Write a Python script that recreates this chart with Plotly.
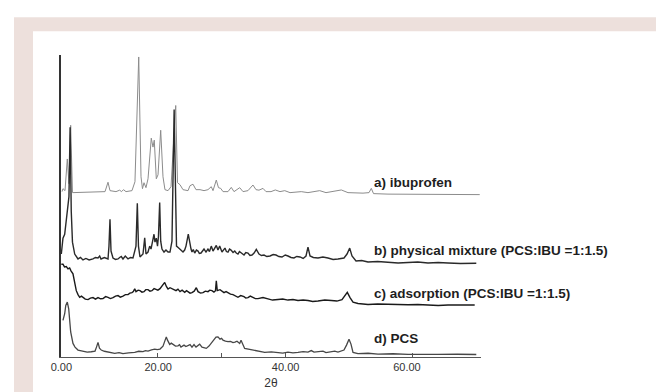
import plotly.graph_objects as go

# ---- data (2θ, stacked intensity in a.u.) ----
ibu_2theta = [4.95, 5.10, 5.42, 5.78, 6.04, 6.31, 6.59, 11.70, 12.17, 12.48, 13.42, 14.00, 14.29, 14.60, 14.99,
              15.93, 16.40, 16.99, 17.35, 17.58, 17.82, 18.13, 18.45, 18.96, 19.23, 19.43, 19.75, 20.02, 20.44,
              20.80, 21.11, 21.59, 22.06, 22.45, 22.80, 23.08, 23.47, 23.94, 24.73, 25.04, 25.51, 25.98, 26.61,
              27.24, 27.86, 28.38, 28.65, 29.17, 29.51, 29.86, 30.22, 31.00, 31.52, 31.95, 32.84, 33.36, 34.14,
              34.92, 35.40, 35.87, 36.50, 36.97, 37.76, 38.43, 39.17, 39.91, 40.74, 42.51, 43.56, 45.40, 46.39,
              48.79, 49.84, 52.20, 53.14, 53.50, 53.85, 56.12, 59.26, 62.40, 65.54, 70.52]
ibu_int = [167, 170, 168, 200, 175, 234, 166, 167, 176.5, 168, 167, 168.5, 167, 169, 167,
           168, 177, 303, 182, 170, 176, 171, 180, 221, 212, 219, 180, 184, 229,
           182, 169, 168, 172, 222, 254, 176, 174, 169, 168, 173, 174.5, 169, 169,
           168, 169, 172, 168, 178.7, 171, 170.3, 167, 167, 171.3, 167, 171, 167, 168,
           173.7, 169, 168.5, 170.3, 167, 167, 168.7, 167, 168, 166, 167, 166, 168, 166,
           168.7, 166, 165.5, 166, 170.3, 165, 164.5, 164.5, 164, 164, 164]

mix_2theta = [4.84, 5.10, 5.37, 5.62, 5.78, 6.04, 6.22, 6.40, 6.59, 6.94, 7.46, 7.85, 8.24, 8.7, 9.2, 9.81,
              10.2, 10.60, 10.86, 11.07, 11.6, 12.17, 12.32, 12.48, 12.64, 12.95, 13.35, 13.74, 14.0, 14.25,
              14.52, 14.88, 15.31, 15.7, 16.09, 16.56, 16.77, 16.95, 17.19, 17.45, 17.66, 17.93, 18.13,
              18.45, 18.71, 18.92, 19.15, 19.39, 19.54, 19.75, 19.94, 20.09, 20.28, 20.44, 20.64, 20.96,
              21.27, 21.59, 21.90, 22.21, 22.55, 22.75, 22.92, 23.18, 23.42, 23.7, 23.94, 24.2, 24.41,
              24.77, 25.04, 25.2, 25.35, 25.55, 25.78, 26.05, 26.30, 26.5, 26.77, 27.0, 27.24, 27.55,
              27.86, 28.1, 28.38, 28.65, 28.9, 29.17, 29.43, 29.70, 30.06, 30.3, 30.53, 30.75, 31.00,
              31.25, 31.48, 31.8, 32.06, 32.3, 32.57, 32.8, 33.05, 33.3, 33.52, 33.8, 34.14, 34.45, 34.77,
              35.1, 35.45, 35.87, 36.25, 36.66, 37.1, 37.60, 38.1, 38.54, 39.0, 39.48, 40.0, 40.42, 40.9,
              41.36, 41.8, 42.31, 42.8, 43.25, 43.56, 43.88, 44.4, 45.13, 45.9, 46.70, 47.5, 48.27, 49.21,
              49.69, 50.11, 50.47, 51.10, 52.0, 52.98, 54.5, 56.12, 57.7, 59.26, 60.8, 62.40, 64.0, 65.54,
              67.5, 69.98]
mix_int = [104, 120, 124, 138, 144, 162, 232, 147, 116, 104, 99, 100.5, 98, 99.5, 98, 99,
           100.5, 100, 102, 99, 100.5, 99, 112, 139, 107, 100, 98.5, 99, 100.5, 101.5,
           99, 102, 99, 100.5, 100, 112, 155.3, 112, 101, 103, 104, 120.3, 104,
           106, 112, 109, 118, 124, 116, 120, 112, 122, 156, 117, 109, 106,
           108, 106, 106, 117, 250, 150, 112, 110.5, 109, 107.5, 106, 108, 112,
           124, 112, 109, 106, 108.5, 105, 108, 107, 104.5, 105, 107.5, 109, 106,
           109, 106.5, 112, 107, 109.5, 112.7, 108, 112, 106, 108.5, 110, 106.5, 106,
           109, 108, 105.5, 107, 105, 104, 106.5, 105.3, 103.5, 103, 105.5, 105, 102.5, 103,
           105, 108.7, 104, 102.5, 103, 101.5, 102, 103.5, 103, 101.5, 101, 103, 102, 100.5,
           100, 101.5, 101, 99.5, 102, 111, 102, 100.5, 100, 101, 100, 98.5, 99, 100,
           104, 110, 102, 97, 97.5, 96, 96.5, 96, 95, 95.5, 96, 95, 95.5, 95,
           94.5, 94.7]

ads_2theta = [4.84, 5.10, 5.34, 5.62, 5.89, 6.15, 6.36, 6.67, 6.94, 7.19, 7.46, 7.72, 8.0, 8.24, 8.6, 9.03,
              9.4, 9.81, 10.2, 10.60, 11.0, 11.38, 11.8, 12.17, 12.55, 12.95, 13.35, 13.74, 14.1, 14.52,
              14.9, 15.31, 15.6, 15.93, 16.15, 16.36, 16.56, 16.9, 17.19, 17.5, 17.82, 18.1, 18.45, 18.75,
              19.07, 19.4, 19.70, 20.0, 20.33, 20.72, 21.07, 21.35, 21.59, 21.9, 22.21, 22.5, 22.84, 23.15,
              23.47, 23.8, 24.21, 24.5, 24.73, 25.05, 25.35, 25.7, 26.03, 26.30, 26.7, 27.08, 27.45, 27.86,
              28.15, 28.49, 28.8, 29.04, 29.17, 29.32, 29.75, 30.05, 30.38, 30.7, 31.00, 31.4, 31.79, 32.2,
              32.57, 33.0, 33.52, 33.8, 34.14, 34.5, 34.93, 35.3, 35.71, 36.5, 37.28, 38.0, 38.85, 39.6,
              40.42, 41.2, 41.99, 42.8, 43.56, 44.3, 45.13, 46.2, 47.22, 48.1, 48.90, 49.29, 49.73, 50.16,
              50.63, 51.41, 52.2, 52.98, 54.5, 56.12, 57.7, 59.26, 60.8, 62.40, 64.0, 65.54, 67.5, 69.73]
ads_int = [93.7, 93.7, 91, 91.3, 89, 90, 87, 84, 75, 67, 63, 60.3, 61.5, 60, 58.5, 58,
           59.5, 60, 58.5, 60, 58.8, 59, 61, 60.3, 59, 60, 61.5, 62, 60.5, 61.5,
           63, 63, 64.5, 65, 66, 69, 66, 67.5, 67, 65.5, 66, 68, 68, 66.5,
           67, 69, 68, 67.5, 69, 72, 75.3, 71, 68.7, 70, 69, 67.5, 67, 68.5,
           66, 67.5, 65.3, 67, 66, 64.5, 65, 66.5, 70, 66, 64.5, 65, 66.5, 66,
           67.5, 67, 65.5, 67, 77, 67, 68, 66.5, 65, 66, 64.7, 63.5, 63, 61.5,
           60.3, 62, 61, 59.5, 60, 61.5, 60.5, 59, 59, 60, 58.7, 57.5, 58, 58.5,
           57.5, 58, 57, 57.5, 57, 56, 56.5, 57.5, 57, 56.5, 58, 62,
           65.3, 60, 55.3, 54, 53.5, 53, 53.5, 53, 52.5, 52.7, 53, 52.5, 52, 52.5, 52.5, 52.5]

pcs_2theta = [5.10, 5.37, 5.54, 5.78, 6.00, 6.15, 6.31, 6.67, 6.99, 7.46, 8.24, 8.9, 9.54, 10.13, 10.36, 10.60,
              10.83, 11.11, 11.6, 12.17, 12.7, 13.22, 13.9, 14.52, 15.4, 16.36, 17.0, 17.66, 18.05, 18.45,
              19.0, 19.50, 19.9, 20.33, 20.80, 21.04, 21.32, 21.51, 21.85, 22.1, 22.37, 22.76, 23.15, 23.4,
              23.62, 24.10, 24.4, 24.73, 25.05, 25.35, 25.67, 25.98, 26.3, 26.56, 26.92, 27.25, 27.60, 28.02,
              28.38, 28.81, 29.12, 29.43, 29.75, 30.0, 30.22, 30.6, 31.00, 31.4, 31.79, 32.1, 32.42, 32.84,
              33.05, 33.62, 34.14, 34.93, 35.8, 36.77, 37.8, 38.85, 39.6, 40.42, 41.2, 41.99, 42.8, 43.56,
              44.08, 44.51, 45.2, 45.92, 46.39, 47.1, 47.76, 48.27, 49.21, 49.61, 50.00, 50.31, 50.63, 51.41,
              53.0, 54.55, 56.9, 59.26, 61.6, 63.97, 67.0, 69.98]
pcs_int = [37, 43.7, 52, 55.5, 48.7, 37, 25.3, 13.7, 10, 7, 6, 5, 5.3, 6, 10, 14.7,
           9, 7, 5.8, 5, 4.2, 3.7, 4.5, 3.5, 4.2, 4.7, 5.8, 5.5, 6.5, 6,
           7.2, 8, 7.5, 8, 11, 16, 20.3, 17, 12.7, 14, 13, 11, 11.3, 12.5,
           10, 12, 10.5, 11.3, 12.5, 10, 12.5, 10, 11.5, 13, 10, 9.5, 8.7, 11,
           13.7, 18, 20, 20.3, 18, 18.8, 17, 16, 15.5, 15.8, 14.5, 15, 16, 13.7,
           17, 8.7, 8, 6.5, 5.5, 4.7, 5.2, 4.5, 4, 5, 4.2, 4.7, 5.5, 5,
           6.5, 5, 5.5, 6, 4.5, 5.2, 6, 5, 7, 12, 18, 13, 4.7, 3.5,
           3.8, 3, 3.3, 2.7, 3, 2.7, 2.8, 2.5]

series_labels = ["a) ibuprofen",
                 "b) physical mixture (PCS:IBU =1:1.5)",
                 "c) adsorption (PCS:IBU =1:1.5)",
                 "d) PCS"]
tick_values = [4.85, 20.05, 40.05, 59.1]
tick_labels = ["0.00", "20.00", "40.00", "60.00"]
x_title = "2θ"

FONT = "Liberation Sans, Arial, sans-serif"
BEIGE = "#ede0dc"

fig = go.Figure()
trace_defs = [
    (ibu_2theta, ibu_int, "#8c8c8c", 1.0),
    (mix_2theta, mix_int, "#2a2a2a", 1.4),
    (ads_2theta, ads_int, "#1a1a1a", 1.4),
    (pcs_2theta, pcs_int, "#474747", 1.3),
]
for (xs, ys, col, w), name in zip(trace_defs, series_labels):
    fig.add_trace(go.Scatter(x=xs, y=ys, mode="lines", name=name,
                             line=dict(color=col, width=w), showlegend=False,
                             hoverinfo="skip"))

# series labels placed to the right of the traces
label_y = [176, 108, 64, 19]
for name, yy in zip(series_labels, label_y):
    fig.add_annotation(x=53.6, y=yy, xref="x", yref="y", text="<b>%s</b>" % name,
                       showarrow=False, xanchor="left", yanchor="middle",
                       font=dict(family=FONT, size=13.5, color="#1e1e1e"))

# page frame (beige border with white panel)
L, T, W, H = 53, 47, 420, 305
def px(xp):
    return (xp - L) / W
def py(yp):
    return (T + H - yp) / H
fig.add_shape(type="rect", xref="paper", yref="paper", x0=px(6), x1=px(664), y0=py(392), y1=py(9),
              fillcolor=BEIGE, line=dict(width=0), layer="below")
fig.add_shape(type="rect", xref="paper", yref="paper", x0=px(25), x1=px(650), y0=py(392), y1=py(23),
              fillcolor="white", line=dict(width=0), layer="below")

fig.update_layout(
    width=664, height=392,
    margin=dict(l=L, r=664 - L - W, t=T, b=392 - T - H),
    paper_bgcolor="white", plot_bgcolor="rgba(0,0,0,0)",
    font=dict(family=FONT, color="#333333"),
    xaxis=dict(range=[4.79, 70.72], showline=True, linecolor="#555555", linewidth=1,
               showgrid=False, zeroline=False, tickmode="array", tickvals=tick_values,
               ticktext=tick_labels, ticks="", tickfont=dict(size=11, color="#333333"),
               minor=dict(tickmode="array", tickvals=[20, 30, 40, 60], ticks="inside",
                          ticklen=4, tickcolor="#555555", tickwidth=1),
               title=dict(text=x_title, font=dict(size=12, color="#333333"), standoff=6)),
    yaxis=dict(range=[0, 305], showline=True, linecolor="#333333", linewidth=2,
               showgrid=False, zeroline=False, showticklabels=False, ticks=""),
)

fig.write_html("out.html")
